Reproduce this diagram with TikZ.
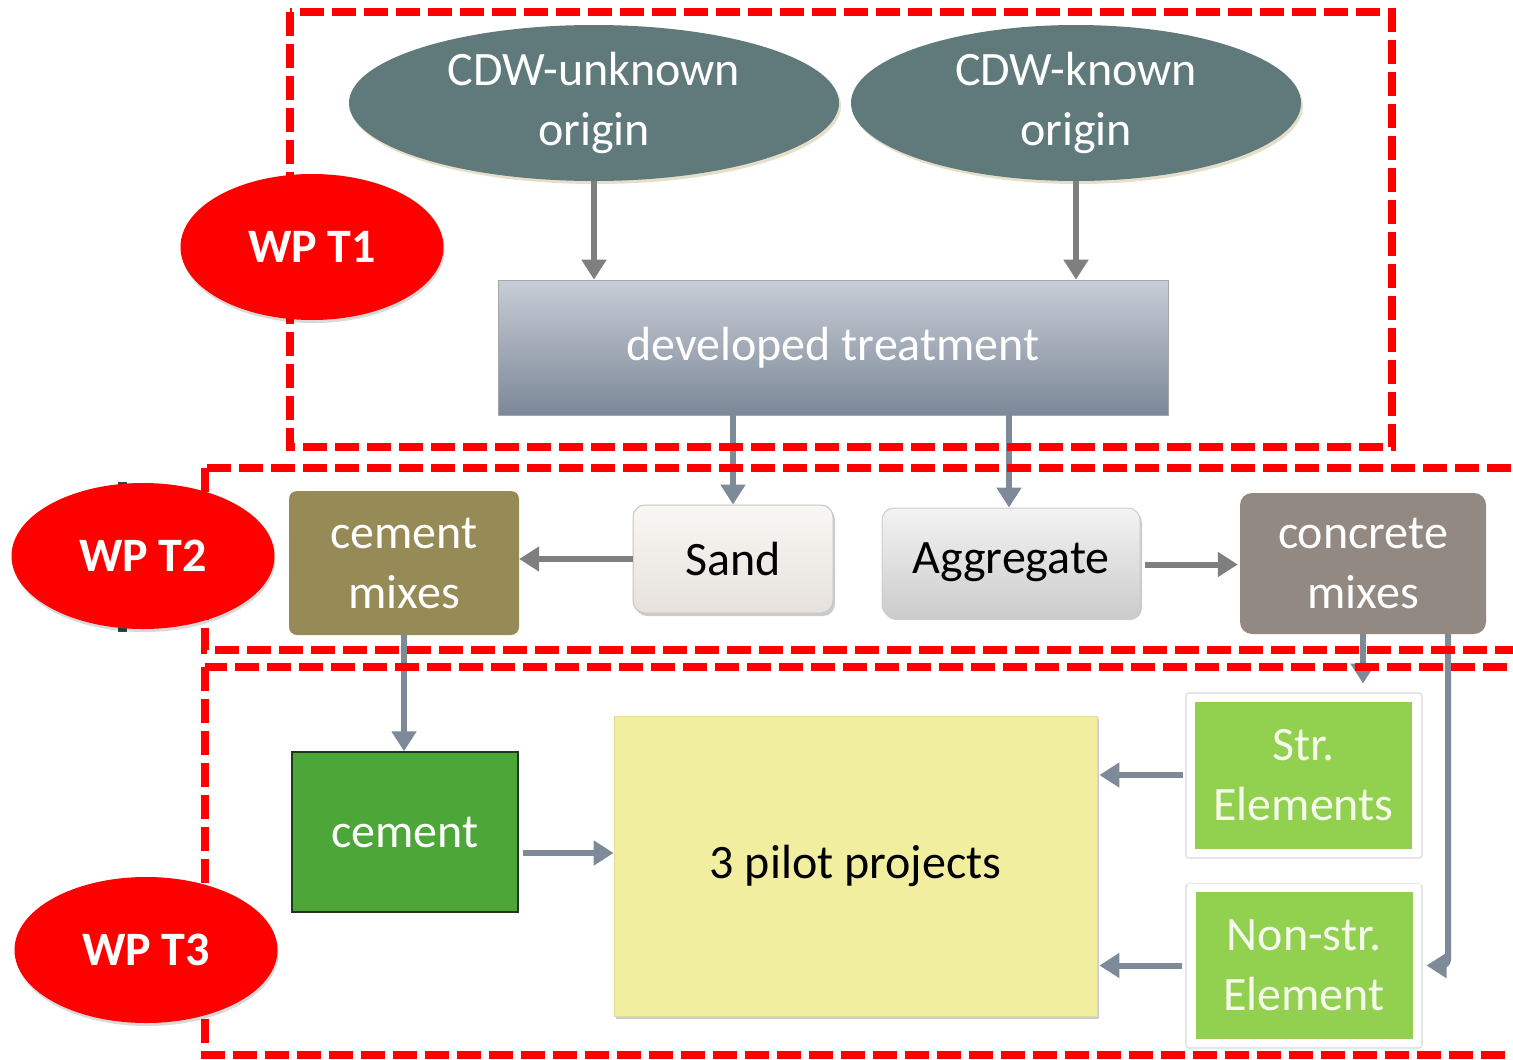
\documentclass[tikz,border=0pt]{standalone}
\usepackage{fontspec}
\setmainfont{Carlito}
\usetikzlibrary{arrows.meta,shapes.geometric,shadows,calc}

\definecolor{slate}{RGB}{96,121,122}
\definecolor{slateglow}{RGB}{190,175,120}
\definecolor{olivebox}{RGB}{150,139,86}
\definecolor{concbox}{RGB}{146,138,130}
\definecolor{cemgreen}{RGB}{76,167,56}
\definecolor{cemedge}{RGB}{35,55,30}
\definecolor{elemgreen}{RGB}{146,208,80}
\definecolor{elemtext}{RGB}{245,250,235}
\definecolor{elemrim}{RGB}{215,218,222}
\definecolor{pilotyellow}{RGB}{242,238,160}
\definecolor{pilotedge}{RGB}{225,220,150}
\definecolor{sandtop}{RGB}{249,247,244}
\definecolor{sandbot}{RGB}{230,225,220}
\definecolor{aggtop}{RGB}{243,243,243}
\definecolor{aggbot}{RGB}{204,204,204}
\definecolor{arrgray}{RGB}{127,127,127}
\definecolor{arrblue}{RGB}{127,138,153}
\definecolor{treattop}{RGB}{200,205,214}
\definecolor{treatbot}{RGB}{124,136,152}
\definecolor{wpred}{RGB}{255,0,0}
\definecolor{darkteal}{RGB}{30,75,90}

\begin{document}
\begin{tikzpicture}[x=1pt,y=-1pt,
  bigtext/.style={font=\fontsize{48}{60}\selectfont, align=center, inner sep=0pt},
  cdw/.style={bigtext, ellipse, fill=slate, text=white, minimum height=156pt,
    drop shadow={shadow xshift=2pt, shadow yshift=-3pt, opacity=.4, fill=slateglow}},
  wp/.style={ellipse, fill=wpred, text=white, inner sep=0pt,
    font=\fontsize{48}{56}\selectfont\bfseries, minimum width=263pt, minimum height=146pt,
    drop shadow={shadow xshift=1pt, shadow yshift=-3pt, opacity=.15, fill=black}},
  flatbox/.style={bigtext, rectangle, minimum width=#1},
  elem/.style={bigtext, rectangle, fill=elemgreen, draw=white, line width=8pt,
    text=elemtext, minimum width=225pt, minimum height=155pt},
  elemframe/.style={draw=elemrim, line width=1.2pt, fill=white, rounded corners=3pt},
  grayarrow/.style={draw=arrgray, line width=6pt, -{Triangle[length=20pt,width=24pt]}},
  bluearrow/.style={draw=arrblue, line width=6pt, -{Triangle[length=20pt,width=24pt]}},
  wpframe/.style={draw=wpred, line width=7.5pt, dash pattern=on 24pt off 8pt},
]
\clip (0,0) rectangle (1513,1060);
\fill[white] (0,0) rectangle (1513,1060);

% light rims behind the element boxes
\draw[elemframe] (1186,693) rectangle (1422,858);
\draw[elemframe] (1186,884) rectangle (1422,1048);

% T1: sources and treatment
\node[cdw, minimum width=490pt] (unk) at (594,103) {CDW-unknown\\origin};
\node[cdw, minimum width=450pt] (kno) at (1076,103) {CDW-known\\origin};
\node[flatbox=670pt, minimum height=135pt, top color=treattop, bottom color=treatbot,
  draw=gray!70, line width=0.8pt, text=white] (treat) at (833,347.5) {developed treatment};

% T2: products and mixes
\node[flatbox=230pt, minimum height=144pt, fill=olivebox, rounded corners=8pt,
  text=white] (cmix) at (404,563) {cement\\mixes};
\node[flatbox=200pt, minimum height=108pt, rounded corners=12pt, draw=gray!45,
  line width=1pt, top color=sandtop, bottom color=sandbot,
  drop shadow={shadow xshift=2pt, shadow yshift=-3pt, opacity=.2, fill=black}] (sand) at (733,559) {Sand};
\node[flatbox=258pt, minimum height=109pt, rounded corners=12pt, draw=gray!40,
  line width=1pt, top color=aggtop, bottom color=aggbot,
  drop shadow={shadow xshift=2pt, shadow yshift=-3pt, opacity=.2, fill=black}] (agg) at (1011,562.5) {Aggregate};
\node[flatbox=246pt, minimum height=141pt, fill=concbox, rounded corners=12pt,
  text=white] (conc) at (1363,563.5) {concrete\\mixes};

% T3: applications
\node[flatbox=226pt, minimum height=160pt, fill=cemgreen, draw=cemedge,
  line width=1.5pt, text=white] (cem) at (405,832) {cement};
\node[flatbox=483pt, minimum height=300pt, fill=pilotyellow, draw=pilotedge,
  line width=0.8pt, drop shadow={shadow xshift=2pt, shadow yshift=-3pt, opacity=.2, fill=black}] (pilot) at (855.5,866) {3 pilot projects};
\node[elem] (str) at (1303.5,775) {Str.\\Elements};
\node[elem] (nstr) at (1304,965.5) {Non-str.\\Element};

% connectors
\draw[grayarrow] (unk.south) -- (unk.south |- treat.north);
\draw[grayarrow] (kno.south) -- (kno.south |- treat.north);
\draw[bluearrow] (sand.north |- treat.south) -- (sand.north);
\draw[bluearrow] ($(agg.north |- treat.south)+(-2,0)$) -- ($(agg.north)+(-2,0)$);
\draw[grayarrow] (sand.west) -- (sand.west -| cmix.east);
\draw[grayarrow] ($(agg.east)+(4,2)$) -- ($(conc.west)+(-2,1)$);
\draw[bluearrow] (cmix.south) -- (cmix.south |- cem.north);
\draw[bluearrow] ($(cem.east)+(4,21)$) -- ($(pilot.west)+(0,-13)$);
\draw[bluearrow] ($(str.west)+(-4,0)$) -- ($(str.west -| pilot.east)+(2,0)$);
\draw[bluearrow] ($(nstr.west)+(-6,0)$) -- ($(nstr.west -| pilot.east)+(2,0)$);
\draw[bluearrow, shorten >=10pt] (conc.south) -- (conc.south |- str.north);
\draw[bluearrow, rounded corners=6pt] ($(conc.south)+(85,0)$) |- ($(nstr.east)+(6,0)$);

% work-package frames
\draw[wpframe] (290,12) rectangle (1392,447);
\draw[wpframe] (205,468) rectangle (1540,650);
\draw[wpframe] (205,667) rectangle (1540,1055);

% small marks behind the T2 label
\fill[darkteal] (118,482) rectangle (127,632);

% work-package labels
\node[wp] (wp1) at (312,247) {WP T1};
\node[wp] (wp2) at (143,556) {WP T2};
\node[wp] (wp3) at (146,950) {WP T3};
\end{tikzpicture}
\end{document}
